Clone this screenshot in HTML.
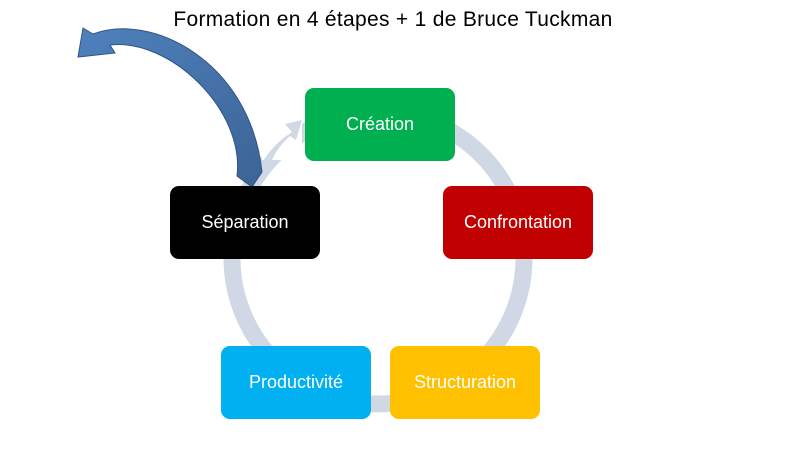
<!DOCTYPE html>
<html><head><meta charset="utf-8"><style>
body{margin:0;width:790px;height:462px;background:#fff;overflow:hidden;position:relative;font-family:"Liberation Sans","DejaVu Sans",sans-serif}
.t{position:absolute;left:0;width:786px;top:8px;text-align:center;font-size:21px;color:#000;letter-spacing:0.3px}
.b{position:absolute;width:150px;height:73px;border-radius:9px;color:#fff;font-size:18px;display:flex;align-items:center;justify-content:center}
</style></head><body>
<svg width="790" height="462" style="position:absolute;left:0;top:0">
<circle cx="378" cy="258" r="146" fill="none" stroke="#d0d7e5" stroke-width="17"/>
<rect x="262" y="120" width="40" height="40" fill="#fff"/>
<path d="M257,172 C268,150 280,140 292,132 L285,124 L302,120 L296,140 L290,136 C280,145 272,155 266,176 Z" fill="#d0d7e5"/>
<defs><linearGradient id="g" x1="0" y1="0" x2="1" y2="1"><stop offset="0" stop-color="#4f81bd"/><stop offset="1" stop-color="#3c6496"/></linearGradient></defs>
<path d="M78,57 L83,28 L93,34 C150,12 250,60 262,172 L252,187 L237,176 C245,110 170,38 110,45 L115,53 Z" fill="url(#g)" stroke="#2f5587" stroke-width="1"/>
</svg>
<div class="t">Formation en 4 étapes + 1 de Bruce Tuckman</div>
<div class="b" style="left:305px;top:88px;background:#00b050">Création</div>
<div class="b" style="left:443px;top:186px;background:#c00000">Confrontation</div>
<div class="b" style="left:390px;top:346px;background:#ffc000">Structuration</div>
<div class="b" style="left:221px;top:346px;background:#00b0f0">Productivité</div>
<div class="b" style="left:170px;top:186px;background:#000">Séparation</div>
</body></html>
